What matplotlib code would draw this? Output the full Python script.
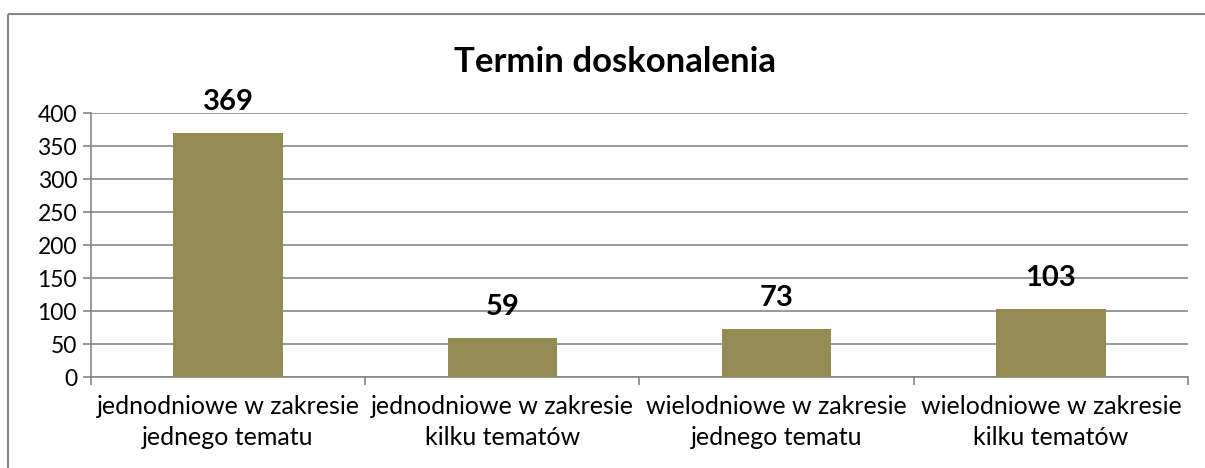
import matplotlib.pyplot as plt
from matplotlib.lines import Line2D

categories = ['jednodniowe w zakresie\njednego tematu',
              'jednodniowe w zakresie\nkilku tematów',
              'wielodniowe w zakresie\njednego tematu',
              'wielodniowe w zakresie\nkilku tematów']
values = [369, 59, 73, 103]
yticks = [0, 50, 100, 150, 200, 250, 300, 350, 400]

plt.rcParams['font.family'] = ['Lato', 'DejaVu Sans']
grey = '#868686'

fig = plt.figure(figsize=(12.05, 4.68), dpi=100)
ax = fig.add_axes([0.0755, 0.1944, 0.9104, 0.5641])

x = list(range(len(values)))
bars = ax.bar(x, values, width=0.4, color='#948A54', zorder=3)

for xi, v in zip(x, values):
    ax.annotate(str(v), (xi, v), xytext=(0, 13), textcoords='offset points',
                ha='center', va='bottom', fontsize=21, fontweight='bold')

ax.set_xlim(-0.5, len(values) - 0.5)
ax.set_ylim(0, 400)
ax.set_yticks(yticks)
ax.tick_params(axis='y', labelsize=16.5, length=6, color=grey, width=1.2, pad=4)
ax.yaxis.grid(True, color=grey, linewidth=1.2, zorder=0)

ax.set_xticks(x)
ax.set_xticklabels(categories, fontsize=18, linespacing=1.4)
ax.set_xticks([i - 0.5 for i in range(len(values) + 1)], minor=True)
ax.tick_params(axis='x', which='major', length=0, pad=13)
ax.tick_params(axis='x', which='minor', length=6, color=grey, width=1.2)

for s in ['top', 'right']:
    ax.spines[s].set_visible(False)
for s in ['left', 'bottom']:
    ax.spines[s].set_color(grey)
    ax.spines[s].set_linewidth(1.2)

fig.text(0.51, 0.868, 'Termin doskonalenia', ha='center', va='center',
         fontsize=25, fontweight='bold')

# chart border (cropped at right/bottom)
fig.add_artist(Line2D([8 / 1205, 8 / 1205], [0, 1 - 14 / 468], color=grey,
                      linewidth=1.5, solid_capstyle='butt'))
fig.add_artist(Line2D([8 / 1205, 1.01], [1 - 14 / 468, 1 - 14 / 468], color=grey,
                      linewidth=1.5, solid_capstyle='butt'))

fig.savefig('out.png', dpi=100)
